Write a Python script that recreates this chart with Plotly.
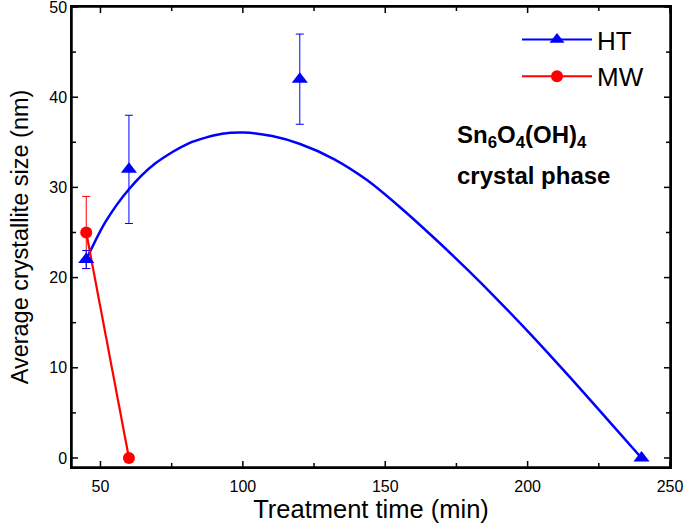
import plotly.graph_objects as go

# HT measured points
ht_x = [45, 60, 120, 240]
ht_y = [22, 32, 42, 0]
ht_err = [1, 6, 5, 0]

# HT fitted curve
fit_x = [45, 51.6, 60, 69.3, 81, 92.7, 100.3, 110.3, 120.1, 131.8, 143.6, 155.3, 167, 178.7, 189.8, 201, 215, 229.1, 240]
fit_y = [22, 26.1, 29.8, 32.67, 34.89, 35.94, 36.09, 35.69, 34.81, 33.17, 30.81, 27.77, 24.44, 20.93, 17.43, 13.73, 8.9, 3.89, 0]

# MW points
mw_x = [45, 60]
mw_y = [25, 0]
mw_err = [4, 0]

x_ticks = [50, 100, 150, 200, 250]
x_minor = [75, 125, 175, 225]
y_ticks = [0, 10, 20, 30, 40, 50]
y_minor = [5, 15, 25, 35, 45]
x_range = [40, 250]
y_range = [-1, 50]

BLUE = "#0000ff"
RED = "#ff0000"
FONT = "Liberation Sans, Arial, sans-serif"

fig = go.Figure()

fig.add_trace(go.Scatter(x=fit_x, y=fit_y, mode="lines",
                         line=dict(color=BLUE, width=2.5, shape="spline", smoothing=0.8),
                         showlegend=False, hoverinfo="skip"))
fig.add_trace(go.Scatter(x=mw_x, y=mw_y, mode="lines+markers", name="MW",
                         line=dict(color=RED, width=2.2),
                         marker=dict(symbol="circle", size=12, color=RED),
                         error_y=dict(type="data", array=mw_err, visible=True, color=RED, thickness=1, width=4),
                         showlegend=False))
fig.add_trace(go.Scatter(x=ht_x, y=ht_y, mode="markers", name="HT",
                         marker=dict(symbol="triangle-up", size=14, color=BLUE),
                         error_y=dict(type="data", array=ht_err, visible=True, color=BLUE, thickness=1, width=4),
                         showlegend=False))
# legend entries
fig.add_trace(go.Scatter(x=[None], y=[None], mode="lines+markers", name="HT",
                         line=dict(color=BLUE, width=2), marker=dict(symbol="triangle-up", size=13, color=BLUE)))
fig.add_trace(go.Scatter(x=[None], y=[None], mode="lines+markers", name="MW",
                         line=dict(color=RED, width=2), marker=dict(symbol="circle", size=12, color=RED)))

axis_common = dict(showline=True, linecolor="black", linewidth=1.5, mirror=True,
                   ticks="", showgrid=False, zeroline=False, automargin=False,
                   ticklabeloverflow="allow",
                   tickfont=dict(family=FONT, size=16, color="black"))

fig.update_layout(
    xaxis=dict(range=x_range, tickvals=x_ticks, ticklabelstandoff=4,
               title=dict(text="Treatment time (min)", font=dict(family=FONT, size=25.5, color="black"), standoff=2),
               **axis_common),
    yaxis=dict(range=y_range, tickvals=y_ticks,
               title=dict(text="Average crystallite size (nm)", font=dict(family=FONT, size=23.5, color="black"), standoff=14),
               **axis_common),
)

# frame
fig.add_shape(type="rect", xref="paper", yref="paper", x0=0, y0=0, x1=1, y1=1,
              line=dict(color="black", width=1.5), layer="above")

# tick marks (inside) on all four sides
tick_line = dict(color="black", width=1.5)
for vals, ln in ((x_ticks, 6), (x_minor, 4)):
    for v in vals:
        fig.add_shape(type="line", xref="x", yref="paper", ysizemode="pixel", yanchor=0,
                      x0=v, x1=v, y0=0, y1=ln, line=tick_line, layer="above")
        fig.add_shape(type="line", xref="x", yref="paper", ysizemode="pixel", yanchor=1,
                      x0=v, x1=v, y0=0, y1=-ln, line=tick_line, layer="above")
for vals, ln in ((y_ticks, 6), (y_minor, 4)):
    for v in vals:
        fig.add_shape(type="line", yref="y", xref="paper", xsizemode="pixel", xanchor=0,
                      y0=v, y1=v, x0=0, x1=ln, line=tick_line, layer="above")
        fig.add_shape(type="line", yref="y", xref="paper", xsizemode="pixel", xanchor=1,
                      y0=v, y1=v, x0=0, x1=-ln, line=tick_line, layer="above")

L, R, T, B = 72, 15, 7, 56
W, H = 685, 523
pw = W - L - R
ph = H - T - B

def px2paper(x, y):
    return (x - L) / pw, 1 - (y - T) / ph

ax1, ay1 = px2paper(455, 136)
ax2, ay2 = px2paper(455, 175)
fig.add_annotation(x=ax1, y=ay1, xref="paper", yref="paper", showarrow=False,
                   text="<b>Sn<sub>6</sub>O<sub>4</sub>(OH)<sub>4</sub></b>",
                   xanchor="left", yanchor="middle",
                   font=dict(family=FONT, size=24, color="black"))
fig.add_annotation(x=ax2, y=ay2, xref="paper", yref="paper", showarrow=False,
                   text="<b>crystal phase</b>",
                   xanchor="left", yanchor="middle",
                   font=dict(family=FONT, size=24, color="black"))

lx, ly = px2paper(517, 16)
fig.update_layout(
    width=W, height=H,
    margin=dict(l=L, r=R, t=T, b=B),
    plot_bgcolor="white", paper_bgcolor="white",
    legend=dict(x=lx, y=ly, xanchor="left", yanchor="top", bgcolor="rgba(0,0,0,0)",
                font=dict(family=FONT, size=26, color="black"),
                itemwidth=70, tracegroupgap=0),
    showlegend=True,
)

fig.write_html("out.html", config={"displayModeBar": False},
               post_script="document.body.style.margin='0px';document.body.style.overflow='hidden';")
